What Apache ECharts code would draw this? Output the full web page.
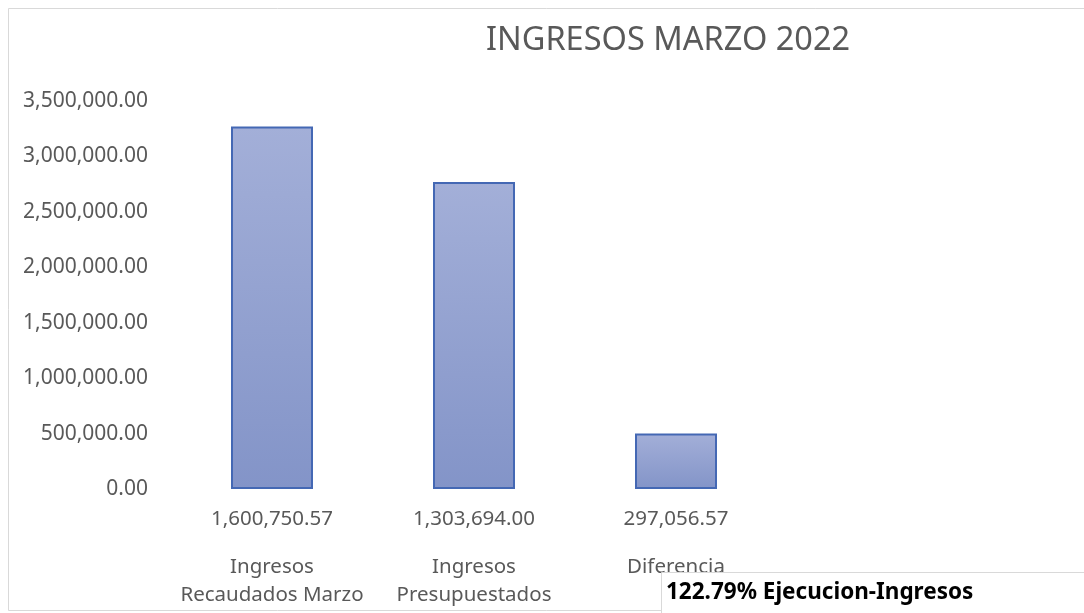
<!DOCTYPE html>
<html>
<head>
<meta charset="utf-8">
<script src="https://cdn.jsdelivr.net/npm/echarts@6/dist/echarts.min.js"></script>
<style>
html,body{margin:0;padding:0;background:#fff;}
#main{width:1084px;height:613px;}
</style>
</head>
<body>
<div id="main"></div>
<script>
const titleText = 'INGRESOS MARZO 2022';
const categories = ['Ingresos\nRecaudados Marzo', 'Ingresos\nPresupuestados', 'Diferencia'];
const valueLabels = ['1,600,750.57', '1,303,694.00', '297,056.57'];
const barValues = [3270000, 2770000, 500000];
const yTicks = { min: 0, max: 3500000, interval: 500000 };
const noteText = '122.79% Ejecucion-Ingresos';

const FONT = 'Noto Sans';
const fmt = v => v.toLocaleString('en-US', { minimumFractionDigits: 2, maximumFractionDigits: 2 });

const chart = echarts.init(document.getElementById('main'), null, { renderer: 'canvas' });
chart.setOption({
  backgroundColor: '#ffffff',
  animation: false,
  title: {
    text: titleText,
    left: 481,
    top: 19,
    textStyle: { fontFamily: FONT, fontSize: 32.5, fontWeight: 'normal', color: '#595959' }
  },
  grid: { left: 171, right: 307, top: 101, bottom: 124, containLabel: false },
  xAxis: {
    type: 'category',
    data: categories,
    axisLine: { show: false },
    axisTick: { show: false },
    axisLabel: {
      interval: 0,
      margin: 16,
      formatter: (name, idx) => {
        const lines = name.split('\n').map(l => '{n|' + l + '}').join('\n');
        return '{v|' + valueLabels[idx] + '}\n{g|}\n' + lines;
      },
      rich: {
        v: { fontFamily: FONT, fontSize: 20.5, color: '#595959', lineHeight: 29 },
        g: { fontSize: 10, lineHeight: 19 },
        n: { fontFamily: FONT, fontSize: 20.5, color: '#595959', lineHeight: 28 }
      }
    }
  },
  yAxis: {
    type: 'value',
    min: yTicks.min,
    max: yTicks.max,
    interval: yTicks.interval,
    splitLine: { show: false },
    axisLine: { show: false },
    axisTick: { show: false },
    axisLabel: {
      margin: 23,
      formatter: v => fmt(v),
      fontFamily: FONT,
      fontSize: 21,
      color: '#595959'
    }
  },
  series: [{
    type: 'bar',
    data: barValues,
    barWidth: 82,
    itemStyle: {
      color: new echarts.graphic.LinearGradient(0, 0, 0, 1, [
        { offset: 0, color: '#a3afd8' },
        { offset: 1, color: '#8394c8' }
      ]),
      borderColor: '#4468b4',
      borderWidth: 2
    }
  }],
  graphic: [
    {
      type: 'rect', z: 0, silent: true,
      shape: { x: 8.5, y: 8.5, width: 1200, height: 602 },
      style: { fill: 'none', stroke: '#d9d9d9', lineWidth: 1 }
    },
    {
      type: 'rect', z: 100, silent: true,
      shape: { x: 661.5, y: 572.5, width: 500, height: 60 },
      style: { fill: '#ffffff', stroke: '#d9d9d9', lineWidth: 1 }
    },
    {
      type: 'text', z: 101, silent: true,
      left: 666, top: 581,
      style: { text: noteText, fontFamily: FONT, fontSize: 22.5, fontWeight: 'bold', fill: '#000000' }
    }
  ]
});
</script>
</body>
</html>
